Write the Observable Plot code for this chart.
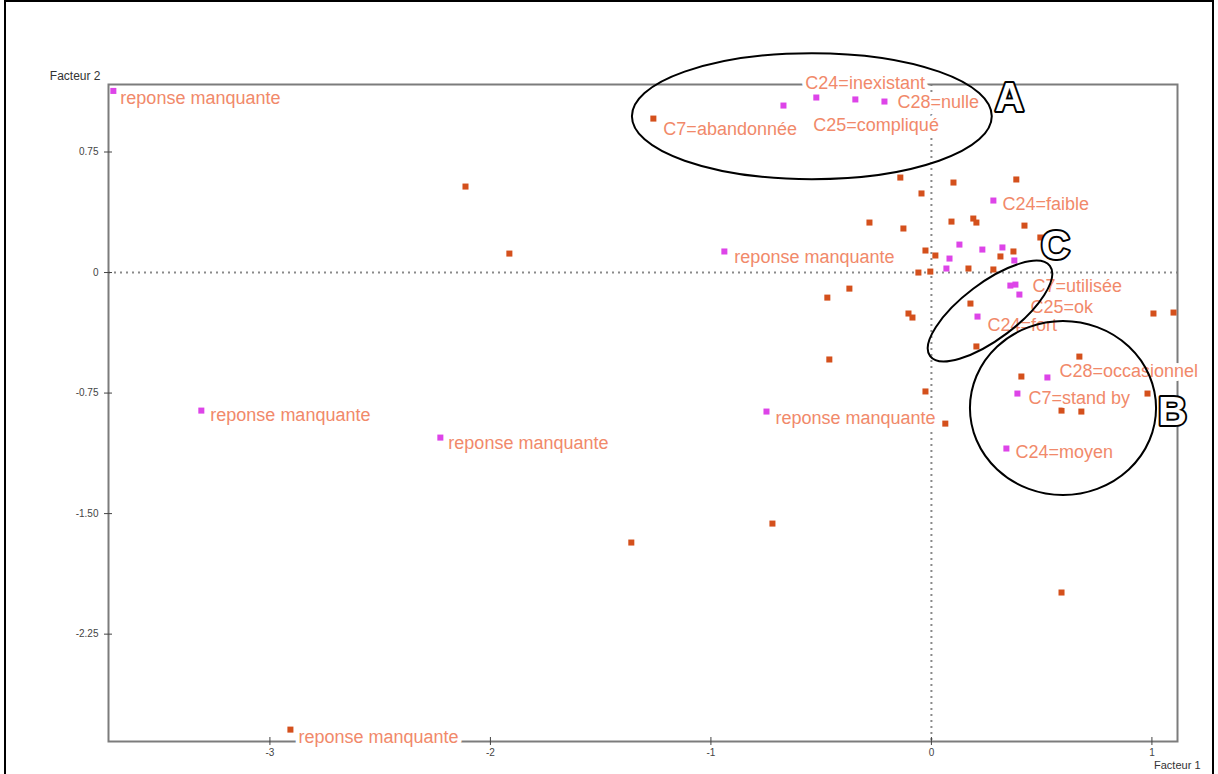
<!DOCTYPE html>
<html><head><meta charset="utf-8">
<script src="https://cdn.jsdelivr.net/npm/d3@7"></script>
<script src="https://cdn.jsdelivr.net/npm/@observablehq/plot@0.6"></script>
<style>
html,body{margin:0;padding:0;background:#fff;}
#wrap{position:relative;width:1218px;height:774px;overflow:hidden;}
#border{position:absolute;left:4px;top:0px;width:1206px;height:800px;border:2px solid #000;pointer-events:none;}
svg{display:block;}
</style></head><body><div id="wrap"><div id="border"></div></div>
<script>
// ---------- data ----------
const xTicks = [-3, -2, -1, 0, 1];
const yTicks = [0.75, 0, -0.75, -1.5, -2.25];

// magenta modalities (Facteur 1, Facteur 2, label)
const magentaX = [-3.71, -0.671, -0.522, -0.345, -0.213, -0.939, 0.281, 0.127, 0.231, 0.322, 0.376, 0.082, 0.068, 0.358, 0.381, 0.399, 0.209, 0.526, 0.39, 0.34, -0.748, -3.311, -2.227];
const magentaY = [1.13, 1.039, 1.089, 1.077, 1.064, 0.131, 0.448, 0.174, 0.143, 0.156, 0.075, 0.087, 0.025, -0.081, -0.075, -0.137, -0.274, -0.653, -0.753, -1.095, -0.865, -0.859, -1.027];
const magentaLabel = ["reponse manquante", "", "C25=compliqué", "C24=inexistant", "C28=nulle", "reponse manquante", "C24=faible", "", "", "", "", "", "", "", "C7=utilisée", "C25=ok", "C24=fort", "C28=occasionnel", "C7=stand by", "C24=moyen", "reponse manquante", "reponse manquante", "reponse manquante"];

// orange individuals / modalities
const orangeX = [-1.261, -2.907, -2.113, -1.914, -0.472, -0.372, -0.463, -0.721, -1.361, 0.59, -0.141, 0.1, -0.045, -0.281, -0.127, 0.091, 0.19, 0.204, -0.027, 0.018, -0.059, -0.005, 0.168, 0.281, 0.313, 0.372, 0.385, 0.422, 0.494, 0.177, -0.104, -0.086, 0.204, -0.027, 0.063, 0.671, 0.408, 0.98, 0.59, 0.68, 1.007, 1.098];
const orangeY = [0.958, -2.844, 0.535, 0.118, -0.156, -0.1, -0.541, -1.562, -1.68, -1.991, 0.591, 0.56, 0.492, 0.311, 0.274, 0.317, 0.336, 0.311, 0.137, 0.106, 0.0, 0.006, 0.025, 0.019, 0.1, 0.131, 0.579, 0.292, 0.218, -0.193, -0.255, -0.28, -0.46, -0.74, -0.94, -0.523, -0.647, -0.753, -0.859, -0.865, -0.255, -0.249];
const orangeLabel = ["C7=abandonnée", "reponse manquante"];

// annotation groups
const groupName = ["A", "B", "C"];
const groupLetterX = [0.354, 1.093, 0.562];
const groupLetterY = [1.083, -0.871, 0.162];
const groupCx = [-0.54, 0.599, 0.268];
const groupCy = [0.97, -0.846, -0.243];
const groupRx = [0.816, 0.422, 0.34];
const groupRy = [0.392, 0.541, 0.174];
const groupAngle = [0, 0, -37];

// ---------- layout (label offsets in px) ----------
const magentaLabelOffset = {
  0: [7, 7], 2: [-3, 28], 3: [-50, -16], 4: [13, 1], 5: [10, 6], 6: [9, 4],
  14: [17, 2], 15: [11, 13], 16: [10, 9], 17: [12, -6], 18: [11, 5], 19: [9, 4],
  20: [9, 7], 21: [9, 5], 22: [8, 6]
};
const orangeLabelOffset = {0: [10, 11], 1: [8, 8]};

const magenta = magentaX.map((x, i) => ({x, y: magentaY[i], label: magentaLabel[i] || ""}));
const orange = orangeX.map((x, i) => ({x, y: orangeY[i], label: orangeLabel[i] || ""}));

const ORANGE = "#d4501c", MAGENTA = "#dd44e8", LABEL = "#f1896a";
const FONT = "Arial, 'Liberation Sans', sans-serif";

const labelMarks = [];
function addLabels(arr, offsets) {
  arr.forEach((d, i) => {
    if (!d.label) return;
    const [dx, dy] = offsets[i] || [8, 4];
    labelMarks.push(Plot.text([d], {
      x: "x", y: "y", text: "label", dx, dy, textAnchor: "start",
      fill: LABEL, stroke: "white", strokeWidth: 8, fontSize: 18, fontFamily: FONT
    }));
  });
}
addLabels(orange, orangeLabelOffset);
addLabels(magenta, magentaLabelOffset);

const letters = groupName.map((g, i) => ({g, x: groupLetterX[i], y: groupLetterY[i]}));

const plot = Plot.plot({
  width: 1218, height: 774,
  marginLeft: 108, marginRight: 41, marginTop: 84, marginBottom: 33,
  style: {fontFamily: FONT, fontSize: "10px", background: "transparent", color: "#333"},
  x: {domain: [-3.732, 1.116]},
  y: {domain: [-2.918, 1.170]},
  marks: [
    Plot.ruleX([0], {stroke: "#8a8a8a", strokeWidth: 2, strokeDasharray: "2,4"}),
    Plot.ruleY([0], {stroke: "#8a8a8a", strokeWidth: 2, strokeDasharray: "2,4"}),
    Plot.frame({stroke: "#7c7c7c", strokeWidth: 2}),
    Plot.axisX({ticks: xTicks, tickSize: 8, dy: -4, tickPadding: 3, tickFormat: d => String(d), label: null, color: "#444", fontSize: 10}),
    Plot.axisY({ticks: yTicks, tickSize: 8, dx: 4, tickPadding: 6, tickFormat: d => d === 0 ? "0" : d.toFixed(2), label: null, color: "#444", fontSize: 10}),
    Plot.text(["Facteur 2"], {frameAnchor: "top-left", text: d => d, textAnchor: "end", dx: -8, dy: -13, fontSize: 12, fill: "#333"}),
    Plot.text(["Facteur 1"], {frameAnchor: "bottom-right", text: d => d, textAnchor: "end", dx: 23, dy: 27, fontSize: 11, fill: "#333"}),
    Plot.dot(orange, {x: "x", y: "y", symbol: "square", r: 3.4, fill: ORANGE}),
    Plot.dot(magenta, {x: "x", y: "y", symbol: "square", r: 3.4, fill: MAGENTA}),
    ...labelMarks,
    Plot.text(letters, {x: "x", y: "y", text: "g", fill: "white", stroke: "black", strokeWidth: 4, fontSize: 40, fontWeight: "bold", fontFamily: FONT, textAnchor: "middle", lineAnchor: "middle"})
  ]
});

// ellipses drawn with the plot's own scales
const sx = plot.scale("x"), sy = plot.scale("y");
const fx = sx.apply ? v => sx.apply(v) : d3.scaleLinear(sx.domain, sx.range);
const fy = sy.apply ? v => sy.apply(v) : d3.scaleLinear(sy.domain, sy.range);
const kx = Math.abs(fx(1) - fx(0)), ky = Math.abs(fy(1) - fy(0));
const svg = d3.select(plot);
const letterNode = svg.selectAll("g[aria-label='text']").nodes().pop();
groupName.forEach((g, i) => {
  const cx = fx(groupCx[i]), cy = fy(groupCy[i]);
  const el = document.createElementNS("http://www.w3.org/2000/svg", "ellipse");
  el.setAttribute("cx", cx); el.setAttribute("cy", cy);
  el.setAttribute("rx", groupRx[i] * kx); el.setAttribute("ry", groupRy[i] * ky);
  el.setAttribute("fill", "none"); el.setAttribute("stroke", "#000"); el.setAttribute("stroke-width", 2);
  el.setAttribute("transform", `rotate(${groupAngle[i]} ${cx} ${cy})`);
  if (letterNode) plot.insertBefore(el, letterNode); else plot.appendChild(el);
});

document.getElementById("wrap").prepend(plot);
</script>
</body></html>
